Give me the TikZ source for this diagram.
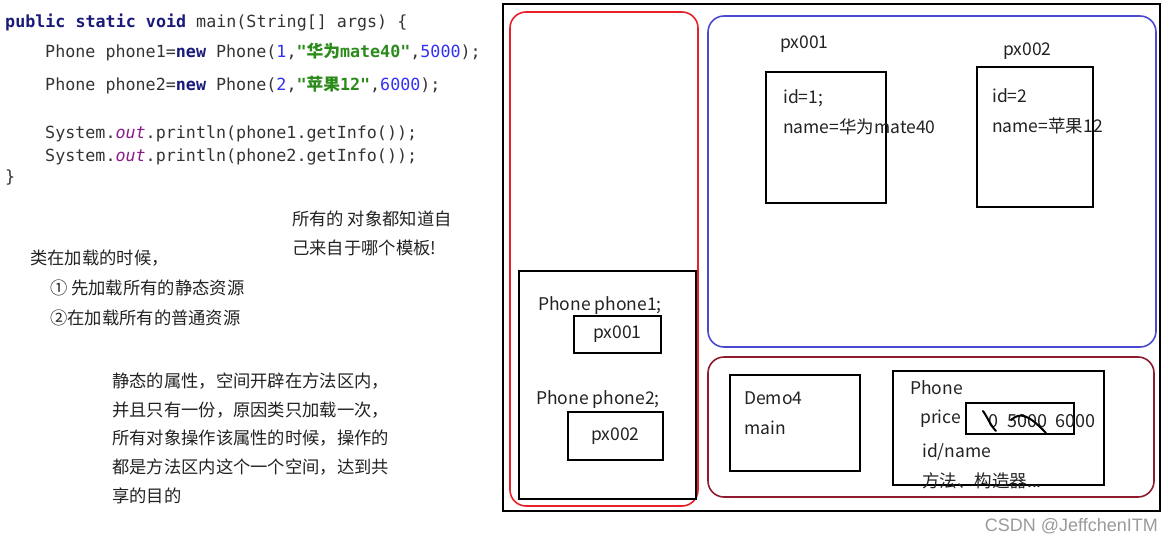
\documentclass[tikz,border=0pt]{standalone}
\usepackage{fontspec}
\setmainfont{Noto Sans CJK SC}
\newfontfamily\cjk{Noto Sans CJK SC}
\newfontfamily\marksans{Liberation Sans}
\setmonofont{DejaVu Sans Mono}
\usepackage{xcolor}
\definecolor{codeink}{HTML}{333333}
\definecolor{codekey}{HTML}{1A1A7A}
\definecolor{codenum}{HTML}{3232F0}
\definecolor{codestr}{HTML}{2A8A1A}
\definecolor{codefield}{HTML}{8A1A8A}
\definecolor{noteink}{HTML}{222222}
\definecolor{stackred}{HTML}{E8202A}
\definecolor{heapblue}{HTML}{4A4AD0}
\definecolor{methodred}{HTML}{8E1B2E}
\definecolor{markgray}{HTML}{9A9A9A}
\newcommand\jkw[1]{\textbf{\textcolor{codekey}{#1}}}
\newcommand\jnum[1]{\textcolor{codenum}{#1}}
\newcommand\jstr[1]{\textbf{\textcolor{codestr}{#1}}}
\newcommand\jcjk[1]{{\cjk\bfseries #1}}
\newcommand\jfield[1]{\textit{\textcolor{codefield}{#1}}}

\begin{document}
\begin{tikzpicture}[
  x=1pt,
  y=-1pt,
  every node/.style={inner sep=0pt, anchor=west, text=noteink},
  codeline/.style={font=\ttfamily\fontsize{16.7}{20}\selectfont, text=codeink},
  note/.style={font=\fontsize{17.3}{20}\selectfont},
  boxtext/.style={font=\fontsize{17.5}{20}\selectfont},
  memframe/.style={line width=1.6pt, rounded corners=16pt},
  objbox/.style={draw=black, line width=2pt}
]
  \useasboundingbox (0,0) rectangle (1173,543);

  % Code: main method
  \node[codeline] (code1) at (5,23) {\jkw{public static void} main(String[] args) \{};
  \node[codeline] (code2) at (45,52) {Phone phone1=\jkw{new} Phone(\jnum{1},\jstr{"\jcjk{华为}mate40"},\jnum{5000});};
  \node[codeline] (code3) at (45,85) {Phone phone2=\jkw{new} Phone(\jnum{2},\jstr{"\jcjk{苹果}12"},\jnum{6000});};
  \node[codeline] (code4) at (45,134) {System.\jfield{out}.println(phone1.getInfo());};
  \node[codeline] (code5) at (45,157) {System.\jfield{out}.println(phone2.getInfo());};
  \node[codeline] (code6) at (5,178) {\}};

  % Notes
  \node[note] (tmplA) at (292,219) {所有的 对象都知道自};
  \node[note] (tmplB) at (292,248) {己来自于哪个模板!};
  \node[note] (loadA) at (30,258) {类在加载的时候，};
  \node[note] (loadB) at (50,288) {① 先加载所有的静态资源};
  \node[note] (loadC) at (50,318) {②在加载所有的普通资源};
  \node[note] (statA) at (112,381) {静态的属性，空间开辟在方法区内，};
  \node[note] (statB) at (112,410) {并且只有一份，原因类只加载一次，};
  \node[note] (statC) at (112,438) {所有对象操作该属性的时候，操作的};
  \node[note] (statD) at (112,467) {都是方法区内这个一个空间，达到共};
  \node[note] (statE) at (112,496) {享的目的};

  % Memory frames
  \draw[black, line width=2pt] (503,4) rectangle (1160,511);
  \draw[memframe, stackred] (510,12) rectangle (698,506);
  \draw[memframe, heapblue] (708,16) rectangle (1156,347);
  \draw[memframe, methodred] (708,357) rectangle (1154,497);

  % Stack: references
  \draw[objbox] (519,271) rectangle (696,499);
  \node[boxtext, anchor=center] (refA) at (600,306) {Phone phone1;};
  \node[objbox, boxtext, anchor=center, minimum width=87pt, minimum height=37pt] (ptrA) at (617.5,334.5) {px001};
  \node[boxtext, anchor=center] (refB) at (598,400) {Phone phone2;};
  \node[objbox, boxtext, anchor=center, minimum width=95pt, minimum height=48pt] (ptrB) at (615.5,436) {px002};

  % Heap: objects
  \node[boxtext] (addrA) at (780,44) {px001};
  \draw[objbox] (766,72) rectangle (886,203);
  \node[boxtext] (idA) at (783,98) {id=1;};
  \node[boxtext] (nameA) at (783,127) {name=华为mate40};
  \node[boxtext] (addrB) at (1003,51) {px002};
  \draw[objbox] (977,67) rectangle (1093,207);
  \node[boxtext] (idB) at (992,96) {id=2};
  \node[boxtext] (nameB) at (992,126) {name=苹果12};

  % Method area: classes
  \draw[objbox] (730,375) rectangle (860,471);
  \node[boxtext] (clsDemo) at (744,398) {Demo4};
  \node[boxtext] (clsMain) at (744,428) {main};
  \draw[objbox] (893,371) rectangle (1104,485);
  \node[boxtext] (clsPhone) at (910,388) {Phone};
  \node[boxtext] (fPrice) at (920,419) {price};
  \draw[objbox] (966,403) rectangle (1074,434);
  \node[boxtext, font=\fontsize{18}{20}\selectfont] (vPrice) at (988,421) {0\hspace{9pt}5000\hspace{8pt}6000};
  \node[boxtext] (fId) at (922,452) {id/name};
  \node[boxtext] (fMeth) at (922,481) {方法、构造器...};
  \draw[line width=2pt, line cap=round] (983,411) .. controls (988,418) and (990,425) .. (996,431);
  \draw[line width=2pt, line cap=round] (1011,420) .. controls (1020,412) and (1028,414) .. (1046,433);

  % Watermark
  \node[font=\marksans\fontsize{18}{20}\selectfont, text=markgray, anchor=east] (mark) at (1158,526) {CSDN @JeffchenITM};
\end{tikzpicture}
\end{document}
